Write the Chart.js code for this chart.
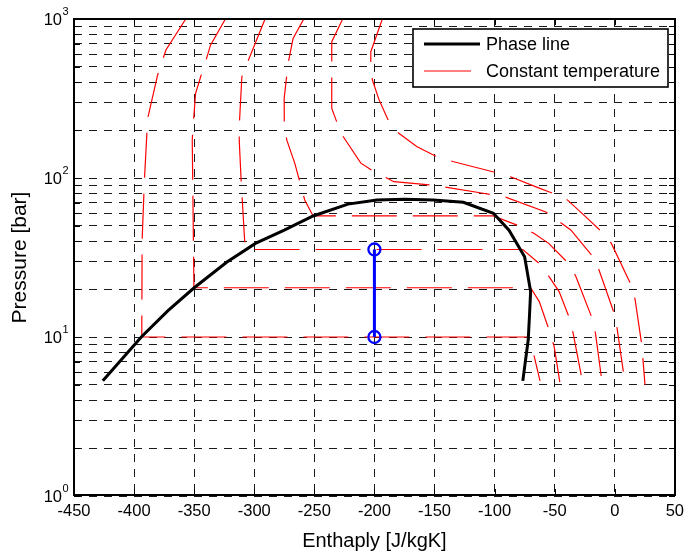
<!DOCTYPE html>
<html lang="en">
<head>
<meta charset="UTF-8">
<title>Pressure - enthalpy diagram</title>
<script src="https://cdn.jsdelivr.net/npm/chart.js@4"></script>
<style>
  body { margin: 0; background: #fff; }
  canvas { display: block; }
</style>
</head>
<body>
<canvas id="phChart" width="690" height="553"></canvas>
<script>
// axis ticks
const xTicks = [-450, -400, -350, -300, -250, -200, -150, -100, -50, 0, 50];
const yTicks = [1, 2, 3, 4, 5, 6, 7, 8, 9, 10, 20, 30, 40, 50, 60, 70, 80, 90,
                100, 200, 300, 400, 500, 600, 700, 800, 900, 1000];
const yDecades = [1, 10, 100, 1000];

// phase line (enthalpy, pressure)
const phaseH = [-426, -394, -372, -350, -323, -299, -275, -251, -222, -198, -175, -151, -126, -101, -88, -75, -70, -71, -72, -76.5];
const phaseP = [5.3, 10, 14.6, 20.4, 29.5, 38.8, 47, 57.7, 68.5, 72.8, 73.5, 72.8, 70.3, 60, 47, 32, 19.3, 13.4, 9.6, 5.3];

// constant temperature lines
const iso1H = [-357, -373.5, -380.4, -388.7, -391.4, -393.3, -393.6, -72, -66.9, -62.2];
const iso1P = [1000, 638, 445, 237, 97, 40.7, 10, 10, 7.5, 5.3];
const iso2H = [-324, -336.4, -340.5, -344.6, -348.8, -350.7, -351.6, -351, -350.2, -70, -62.8, -54.5, -50.4, -45.7];
const iso2P = [1000, 685, 538, 433, 341, 221, 173, 72.8, 20.4, 20.4, 16.7, 11, 8.7, 5.2];
const iso3H = [-291, -304.8, -310.3, -312.2, -312.5, -310.8, -308, -307, -76.5, -62.8, -54.5, -46.3, -38, -34.7, -27.6];
const iso3P = [1000, 552, 433, 232, 173, 92.7, 40.7, 35.5, 35.5, 29, 23.9, 19.3, 13.3, 10.6, 5.6];
const iso4H = [-258.8, -267.7, -271.8, -275.1, -275, -272.9, -266.3, -258, -251, -101.2, -79.3, -67.4, -55, -39.4, -32.5, -18.8, -16, -11];
const iso4P = [1000, 755, 526, 317, 221, 173, 124, 72.8, 57.7, 57.7, 49.9, 44.9, 38.8, 29.5, 24.2, 13.1, 10.5, 5.5];
const iso5H = [-226.4, -235.5, -235.5, -227.8, -211.3, -201.6, -189.3, -183.8, -153.5, -139.8, -109.5, -90.3, -57.3, -36.6, -19.3, -13.3, -0.9, 1.9, 7.3];
const iso5P = [1000, 720, 274, 191, 124, 111, 99.6, 94.8, 90.4, 87.4, 80.2, 75.6, 61.1, 47.1, 32.8, 26.7, 14.4, 11.4, 5.95];
const iso6H = [-193.4, -203, -203, -201.7, -196.1, -187.9, -179.7, -164.5, -148, -134.8, -98.5, -85.6, -65.5, -51.8, -39.4, -24.3, -11.9, -2.8, 13.7, 17, 22.5, 25.2];
const iso6P = [1000, 623, 526, 413, 310, 226, 191, 157, 136, 127, 108, 101, 88, 80.2, 72.8, 57.2, 46.7, 38.8, 21.2, 17.1, 8.9, 5];

// compression step
const stepH = [-200, -200];
const stepP = [10, 35.5];

const FONT = "'Liberation Sans', Arial, Helvetica, sans-serif";

function pts(hs, ps) {
  return hs.map((h, i) => ({ x: h, y: ps[i] }));
}

function isoSet(hs, ps, label) {
  return {
    label: label,
    data: pts(hs, ps),
    borderColor: '#ff0000',
    borderWidth: 1.2,
    borderDash: [45, 16],
    pointRadius: 0,
    showLine: true,
    tension: 0
  };
}

// box, inside ticks, y labels with exponents and the legend
const matlabFrame = {
  id: 'matlabFrame',
  afterDraw(chart) {
    const { ctx, chartArea: a, scales: { x, y } } = chart;
    const L = Math.round(a.left), R = Math.round(a.right);
    const T = Math.round(a.top), B = Math.round(a.bottom) - 1;
    ctx.save();
    ctx.setLineDash([]);
    ctx.strokeStyle = '#000';
    ctx.lineWidth = 1;
    ctx.beginPath();
    xTicks.forEach(v => {
      const px = Math.round(x.getPixelForValue(v)) + 0.5;
      ctx.moveTo(px, B); ctx.lineTo(px, B - 6);
      ctx.moveTo(px, T); ctx.lineTo(px, T + 6);
    });
    yTicks.forEach(v => {
      const py = Math.round(y.getPixelForValue(v)) + 0.5;
      ctx.moveTo(L, py); ctx.lineTo(L + 6, py);
      ctx.moveTo(R, py); ctx.lineTo(R - 6, py);
    });
    ctx.stroke();
    ctx.lineWidth = 2;
    ctx.strokeRect(L, T, R - L, B - T);

    // y tick labels 10^n
    ctx.fillStyle = '#000';
    yDecades.forEach(v => {
      const py = y.getPixelForValue(v);
      ctx.font = '16.5px ' + FONT;
      ctx.textAlign = 'right';
      ctx.textBaseline = 'alphabetic';
      ctx.fillText('10', a.left - 12, py + 6);
      ctx.font = '11px ' + FONT;
      ctx.textAlign = 'left';
      ctx.fillText(String(Math.round(Math.log10(v))), a.left - 11.5, py - 4);
    });

    // legend
    const lw = 255, lh = 58;
    const lx = Math.round(a.right - 7 - lw), ly = Math.round(a.top + 10);
    ctx.fillStyle = '#fff';
    ctx.fillRect(lx, ly, lw, lh);
    ctx.strokeStyle = '#000';
    ctx.lineWidth = 1.6;
    ctx.strokeRect(lx, ly, lw, lh);
    const items = [
      { text: 'Phase line', color: '#000', width: 3.2, len: 56, yy: 15 },
      { text: 'Constant temperature', color: '#ff0000', width: 1, len: 47, yy: 42 }
    ];
    items.forEach(it => {
      ctx.beginPath();
      ctx.strokeStyle = it.color;
      ctx.lineWidth = it.width;
      ctx.moveTo(lx + 11, ly + it.yy);
      ctx.lineTo(lx + 11 + it.len, ly + it.yy);
      ctx.stroke();
      ctx.fillStyle = '#000';
      ctx.font = '18px ' + FONT;
      ctx.textAlign = 'left';
      ctx.textBaseline = 'middle';
      ctx.fillText(it.text, lx + 73, ly + it.yy + 1);
    });
    ctx.restore();
  }
};

new Chart(document.getElementById('phChart'), {
  type: 'scatter',
  data: {
    datasets: [
      {
        label: 'Compression',
        data: pts(stepH, stepP),
        borderColor: '#0000ff',
        borderWidth: 3,
        pointRadius: 6,
        pointBorderWidth: 2.3,
        pointBorderColor: '#0000ff',
        pointBackgroundColor: 'rgba(0,0,0,0)',
        showLine: true
      },
      {
        label: 'Phase line',
        data: pts(phaseH, phaseP),
        borderColor: '#000',
        borderWidth: 3,
        pointRadius: 0,
        showLine: true,
        tension: 0
      },
      isoSet(iso1H, iso1P, 'Constant temperature'),
      isoSet(iso2H, iso2P, 'T2'),
      isoSet(iso3H, iso3P, 'T3'),
      isoSet(iso4H, iso4P, 'T4'),
      isoSet(iso5H, iso5P, 'T5'),
      isoSet(iso6H, iso6P, 'T6')
    ]
  },
  options: {
    responsive: false,
    animation: false,
    layout: { padding: { top: 19, right: 10, left: 0, bottom: 0 } },
    plugins: {
      legend: { display: false },
      tooltip: { enabled: false }
    },
    scales: {
      x: {
        type: 'linear',
        min: -450,
        max: 50,
        afterBuildTicks: s => { s.ticks = xTicks.map(v => ({ value: v })); },
        afterFit: s => { s.height = 57; },
        grid: { color: '#1a1a1a', lineWidth: 1, drawTicks: false },
        border: { display: false, dash: [8, 7] },
        ticks: { color: '#000', font: { family: FONT, size: 16.5 }, padding: 6, maxRotation: 0, autoSkip: false },
        title: { display: true, text: 'Enthaply [J/kgK]', color: '#000', font: { family: FONT, size: 20 }, padding: { top: 2, bottom: 0 } }
      },
      y: {
        type: 'logarithmic',
        min: 1,
        max: 1000,
        afterBuildTicks: s => { s.ticks = yTicks.map(v => ({ value: v })); },
        afterFit: s => { s.width = 74; },
        grid: { color: '#1a1a1a', lineWidth: 1, drawTicks: false },
        border: { display: false, dash: [8, 7] },
        ticks: { display: false },
        title: { display: true, text: 'Pressure [bar]', color: '#000', font: { family: FONT, size: 21 }, padding: { top: 8, bottom: 0 } }
      }
    }
  },
  plugins: [matlabFrame]
});
</script>
</body>
</html>
